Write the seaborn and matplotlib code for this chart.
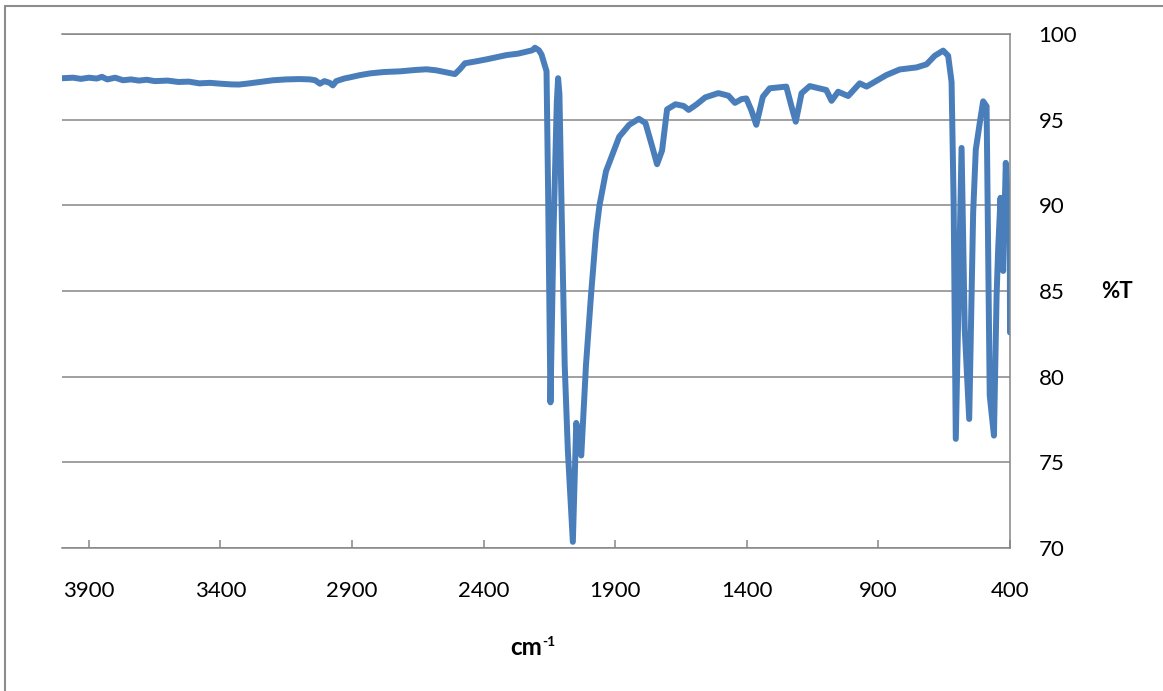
import numpy as np
import pandas as pd
import matplotlib
matplotlib.use("Agg")
import matplotlib.pyplot as plt
from matplotlib.lines import Line2D
import seaborn as sns

# ---- data ----
wavenumber = [
    4000, 3960, 3930, 3900, 3870, 3850, 3830, 3800, 3770, 3740, 3710, 3680, 3650,
    3600, 3560, 3520, 3480, 3440, 3400, 3360, 3330, 3300, 3250, 3200, 3150, 3100,
    3060, 3040, 3022, 3005, 2985, 2973, 2960, 2930, 2908, 2870, 2832, 2780, 2718,
    2660, 2617, 2580, 2554, 2509, 2490, 2471, 2430, 2389, 2350, 2313, 2270, 2237,
    2215, 2205, 2190, 2180, 2168, 2161, 2155, 2146, 2134, 2122, 2117, 2112, 2105,
    2092, 2080, 2061, 2048, 2040, 2029, 2011, 1992, 1973, 1960, 1935, 1910, 1885,
    1847, 1810, 1785, 1759, 1741, 1722, 1703, 1671, 1640, 1621, 1590, 1558, 1508,
    1470, 1445, 1420, 1402, 1383, 1364, 1339, 1313, 1250, 1230, 1214, 1192, 1161,
    1098, 1078, 1053, 1015, 971, 945, 870, 819, 755, 717, 686, 654, 635, 622, 614,
    606, 584, 572, 555, 540, 530, 515, 502, 489, 477, 461, 451, 445, 436, 426, 416,
    407, 401, 400,
]
transmittance = [
    97.42, 97.45, 97.38, 97.45, 97.40, 97.50, 97.35, 97.45, 97.30, 97.35, 97.28, 97.33, 97.25,
    97.28, 97.20, 97.22, 97.12, 97.15, 97.10, 97.06, 97.05, 97.10, 97.20, 97.30, 97.35, 97.37,
    97.35, 97.30, 97.10, 97.25, 97.15, 97.00, 97.25, 97.40, 97.47, 97.60, 97.70, 97.78, 97.82,
    97.90, 97.94, 97.88, 97.80, 97.66, 97.95, 98.29, 98.40, 98.52, 98.65, 98.77, 98.85, 98.97,
    99.05, 99.20, 99.05, 98.80, 98.20, 97.83, 90.80, 78.50, 88.77, 96.00, 97.42, 96.50, 90.80,
    80.70, 75.70, 70.36, 77.30, 76.50, 75.40, 80.70, 84.75, 88.37, 89.98, 91.99, 93.00, 94.00,
    94.70, 95.05, 94.80, 93.40, 92.40, 93.20, 95.60, 95.90, 95.80, 95.57, 95.90, 96.30, 96.55,
    96.40, 95.98, 96.20, 96.24, 95.56, 94.70, 96.34, 96.83, 96.93, 95.76, 94.88, 96.54, 96.96,
    96.73, 96.10, 96.63, 96.38, 97.12, 96.93, 97.60, 97.93, 98.05, 98.23, 98.73, 99.03, 98.73, 97.20, 90.00,
    76.37, 93.35, 82.77, 77.53, 89.57, 93.25, 94.80, 96.07, 95.78, 78.90, 76.56, 84.70, 87.43, 90.44, 86.17, 92.48,
    89.95, 90.54, 82.58,
]
x_ticks = [3900, 3400, 2900, 2400, 1900, 1400, 900, 400]
y_ticks = [70, 75, 80, 85, 90, 95, 100]

df = pd.DataFrame({"wavenumber": wavenumber, "T": transmittance})

sns.set_theme(style="white")
plt.rcParams["font.family"] = ["Lato", "DejaVu Sans"]

W, H = 1163, 691
fig = plt.figure(figsize=(W / 100, H / 100), dpi=100)
ax = fig.add_axes([62 / W, 1 - 548 / H, 948 / W, 514 / H])

grid_col = "#868686"
line_col = "#4A7EBB"

sns.lineplot(data=df, x="wavenumber", y="T", sort=False, estimator=None,
             color=line_col, linewidth=4.3, ax=ax)
for l in ax.get_lines():
    l.set_solid_joinstyle("round")
    l.set_solid_capstyle("round")

ax.set_xlim(4002, 400)
ax.set_ylim(70, 100)
ax.set_xticks(x_ticks)
ax.set_xticklabels([str(v) for v in x_ticks])
ax.set_yticks(y_ticks)
ax.set_yticklabels([str(v) for v in y_ticks])

ax.yaxis.tick_right()
ax.yaxis.grid(True, color=grid_col, linewidth=1.1)
ax.xaxis.grid(False)
ax.set_axisbelow(True)

ax.spines["left"].set_visible(False)
for side in ["right", "bottom", "top"]:
    ax.spines[side].set_visible(True)
    ax.spines[side].set_color(grid_col)
    ax.spines[side].set_linewidth(1.1)

ax.tick_params(axis="x", direction="in", length=6, width=1.1, color=grid_col,
               pad=24, labelsize=16, labelcolor="black", bottom=True)
ax.tick_params(axis="y", length=0, pad=20.5, labelsize=16, labelcolor="black",
               right=True, left=False, labelright=True, labelleft=False)

ax.set_xlabel("cm", fontsize=17.5, fontweight="bold", color="black", labelpad=0)
ax.xaxis.set_label_coords((526 - 62) / 948, (548 - 655) / 514)
ax.xaxis.label.set_va("baseline")
ax.annotate("-1", xy=(1, 0), xycoords=ax.xaxis.label, xytext=(0.3, 9.5),
            textcoords="offset points", fontsize=10, fontweight="bold",
            ha="left", va="baseline", color="black")

ax.yaxis.set_label_position("right")
ax.set_ylabel("%T", rotation=0, fontsize=16, fontweight="bold", color="black")
ax.yaxis.label.set_ha("left")
ax.yaxis.label.set_va("center")
ax.yaxis.set_label_coords((1101 - 62) / 948, 0.5)

# outer chart border (top and left edges visible in the reference)
bcol = "#8c8c8c"
fig.add_artist(Line2D([5 / W, 1.0], [1 - 5.5 / H, 1 - 5.5 / H],
                      transform=fig.transFigure, color=bcol, linewidth=1.5))
fig.add_artist(Line2D([5 / W, 5 / W], [0, 1 - 5.5 / H],
                      transform=fig.transFigure, color=bcol, linewidth=1.5))

fig.savefig("out.png", dpi=100)
